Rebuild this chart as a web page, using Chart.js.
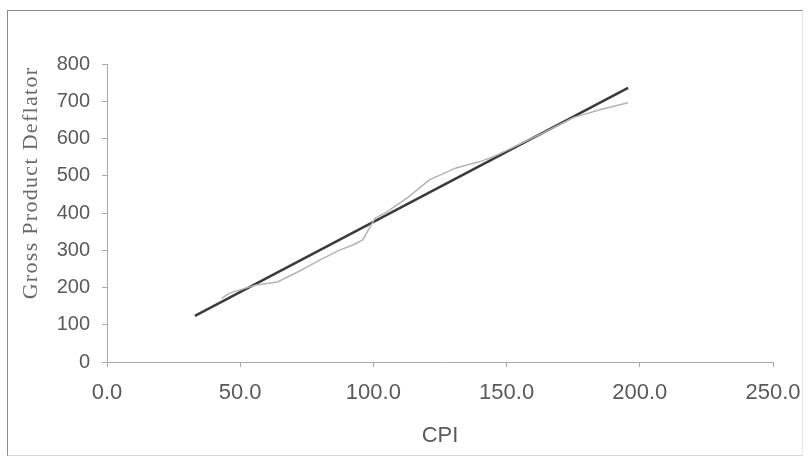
<!DOCTYPE html>
<html>
<head>
<meta charset="utf-8">
<script src="https://cdn.jsdelivr.net/npm/chart.js@4/dist/chart.umd.min.js"></script>
<style>
  html, body { margin: 0; padding: 0; background: #fff; }
  #wrap { position: relative; width: 810px; height: 459px; }
  #frame { position: absolute; left: 7px; top: 10px; width: 796px; height: 446px;
           border: 1px solid #8a8a8a; border-right-color: #e4e4e4; border-bottom-color: #d8d8d8; box-sizing: border-box; }
  #chart { position: absolute; left: 0; top: 0; }
</style>
</head>
<body>
<div id="wrap">
  <div id="frame"></div>
  <canvas id="chart" width="810" height="459"></canvas>
</div>
<script>
// actual series (light grey line)
const cpiActual = [43, 46, 56, 64, 72.5, 80, 87.5, 92.3, 96, 98.7, 100.6, 105, 110, 113, 121, 131, 140, 145, 155, 165, 175, 185, 195.6];
const deflatorActual = [171, 185, 207, 215, 245, 274, 301, 314, 328, 362, 386, 403, 427, 442, 489, 521, 538, 551, 585, 620, 656, 677, 696];

// fitted line (dark)
const cpiFit = [33, 195.6];
const deflatorFit = [124, 736];

const xTicks = [0, 50, 100, 150, 200, 250];
const yTicks = [0, 100, 200, 300, 400, 500, 600, 700, 800];

const sans = "'Liberation Sans', Arial, sans-serif";

const toPoints = (xs, ys) => xs.map((x, i) => ({ x: x, y: ys[i] }));

// y axis title drawn in a serif face, rotated
const yTitlePlugin = {
  id: "yTitle",
  afterDraw(chart) {
    const ctx = chart.ctx;
    ctx.save();
    ctx.translate(31, 183);
    ctx.rotate(-Math.PI / 2);
    ctx.font = "22px 'Liberation Serif', serif";
    ctx.letterSpacing = "1.3px";
    ctx.fillStyle = "#6a6a6a";
    ctx.textAlign = "center";
    ctx.textBaseline = "middle";
    ctx.fillText("Gross Product Deflator", 0, 0);
    ctx.restore();
  }
};

new Chart(document.getElementById("chart").getContext("2d"), {
  type: "scatter",
  data: {
    datasets: [
      {
        label: "Actual",
        data: toPoints(cpiActual, deflatorActual),
        showLine: true,
        borderColor: "#b4b4b4",
        borderWidth: 1.5,
        pointRadius: 0,
        tension: 0
      },
      {
        label: "Fit",
        data: toPoints(cpiFit, deflatorFit),
        showLine: true,
        borderColor: "#3a3a3a",
        borderWidth: 2.5,
        pointRadius: 0
      }
    ]
  },
  options: {
    responsive: false,
    animation: false,
    layout: { padding: { top: 64, right: 37, bottom: 0, left: 0 } },
    plugins: {
      legend: { display: false },
      tooltip: { enabled: false }
    },
    scales: {
      x: {
        type: "linear",
        min: 0,
        max: 250,
        afterBuildTicks: (axis) => { axis.ticks = xTicks.map(v => ({ value: v })); },
        afterFit: (axis) => {
          axis.height = 97;
          axis.paddingLeft = 0;
          axis.paddingRight = 0;
        },
        ticks: {
          color: "#5a5a5a",
          font: { family: sans, size: 22 },
          padding: 13,
          maxRotation: 0,
          callback: (v) => v.toFixed(1)
        },
        grid: { drawOnChartArea: false, tickLength: 5, color: "#aaa" },
        border: { color: "#aaa" },
        title: {
          display: true,
          text: "CPI",
          color: "#5a5a5a",
          font: { family: sans, size: 22 },
          padding: { top: 0, bottom: 10 }
        }
      },
      y: {
        type: "linear",
        min: 0,
        max: 800,
        afterBuildTicks: (axis) => { axis.ticks = yTicks.map(v => ({ value: v })); },
        afterFit: (axis) => { axis.width = 107; },
        ticks: {
          color: "#5a5a5a",
          font: { family: sans, size: 20 },
          padding: 12
        },
        grid: { drawOnChartArea: false, tickLength: 5, color: "#aaa" },
        border: { color: "#aaa" }
      }
    }
  },
  plugins: [yTitlePlugin]
});
</script>
</body>
</html>
